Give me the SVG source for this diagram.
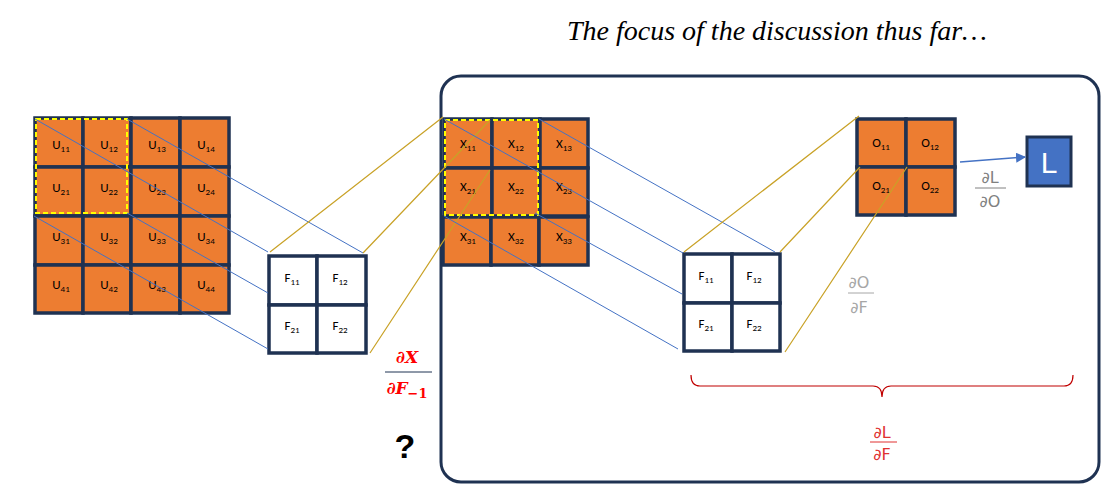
<svg xmlns="http://www.w3.org/2000/svg" width="1104" height="498" viewBox="0 0 1104 498">
<style>
.c{fill:#ED7D31;stroke:#1F3252;stroke-width:3.5}
.w{fill:#fff;stroke:#1F3252;stroke-width:3.5}
.t{font-family:Calibri,"Liberation Sans",sans-serif;font-size:13px;fill:#000;text-anchor:middle}
.s{font-size:9px}
.b{stroke:#4472C4;stroke-width:1;fill:none}
.g{stroke:#C9A227;stroke-width:1.2;fill:none}
.y{fill:none;stroke:#FFFF00;stroke-width:2;stroke-dasharray:5 3}
.m{font-family:"DejaVu Sans",sans-serif;font-size:16px;text-anchor:middle}
</style>
<defs><marker id="ar" markerWidth="10" markerHeight="10" refX="9" refY="5" orient="auto" markerUnits="userSpaceOnUse"><path d="M0,0L10,5L0,10z" fill="#4472C4"/></marker></defs>
<rect width="1104" height="498" fill="#fff"/>
<text x="777" y="40" font-family="Liberation Serif,serif" font-style="italic" font-size="28" text-anchor="middle">The focus of the discussion thus far…</text>
<rect x="441" y="76" width="658" height="406" rx="20" fill="none" stroke="#1F3252" stroke-width="3"/>
<g id="U">
<rect class="c" x="35" y="118" width="48" height="49"/><rect class="c" x="83" y="118" width="48" height="49"/><rect class="c" x="131" y="118" width="49" height="49"/><rect class="c" x="180" y="118" width="49" height="49"/>
<rect class="c" x="35" y="167" width="48" height="49"/><rect class="c" x="83" y="167" width="48" height="49"/><rect class="c" x="131" y="167" width="49" height="49"/><rect class="c" x="180" y="167" width="49" height="49"/>
<rect class="c" x="35" y="216" width="48" height="49"/><rect class="c" x="83" y="216" width="48" height="49"/><rect class="c" x="131" y="216" width="49" height="49"/><rect class="c" x="180" y="216" width="49" height="49"/>
<rect class="c" x="35" y="265" width="48" height="48"/><rect class="c" x="83" y="265" width="48" height="48"/><rect class="c" x="131" y="265" width="49" height="48"/><rect class="c" x="180" y="265" width="49" height="48"/>
<text class="t" x="61" y="149">U<tspan class="s" dy="3">11</tspan></text><text class="t" x="109" y="149">U<tspan class="s" dy="3">12</tspan></text><text class="t" x="157" y="149">U<tspan class="s" dy="3">13</tspan></text><text class="t" x="206" y="149">U<tspan class="s" dy="3">14</tspan></text>
<text class="t" x="61" y="192">U<tspan class="s" dy="3">21</tspan></text><text class="t" x="109" y="192">U<tspan class="s" dy="3">22</tspan></text><text class="t" x="157" y="192">U<tspan class="s" dy="3">23</tspan></text><text class="t" x="206" y="192">U<tspan class="s" dy="3">24</tspan></text>
<text class="t" x="61" y="241">U<tspan class="s" dy="3">31</tspan></text><text class="t" x="109" y="241">U<tspan class="s" dy="3">32</tspan></text><text class="t" x="157" y="241">U<tspan class="s" dy="3">33</tspan></text><text class="t" x="206" y="241">U<tspan class="s" dy="3">34</tspan></text>
<text class="t" x="61" y="289">U<tspan class="s" dy="3">41</tspan></text><text class="t" x="109" y="289">U<tspan class="s" dy="3">42</tspan></text><text class="t" x="157" y="289">U<tspan class="s" dy="3">43</tspan></text><text class="t" x="206" y="289">U<tspan class="s" dy="3">44</tspan></text>
<rect class="y" x="36" y="119" width="91" height="94"/>
</g>
<g id="F1">
<rect class="w" x="269" y="256" width="48" height="49"/><rect class="w" x="317" y="256" width="49" height="49"/><rect class="w" x="269" y="305" width="48" height="48"/><rect class="w" x="317" y="305" width="49" height="48"/>
<text class="t" x="292" y="282">F<tspan class="s" dy="3">11</tspan></text><text class="t" x="340" y="282">F<tspan class="s" dy="3">12</tspan></text>
<text class="t" x="292" y="330">F<tspan class="s" dy="3">21</tspan></text><text class="t" x="340" y="330">F<tspan class="s" dy="3">22</tspan></text>
</g>
<g id="X">
<rect class="c" x="444" y="119" width="48" height="49"/><rect class="c" x="492" y="119" width="48" height="49"/><rect class="c" x="540" y="119" width="48" height="49"/>
<rect class="c" x="444" y="168" width="48" height="48"/><rect class="c" x="492" y="168" width="48" height="48"/><rect class="c" x="540" y="168" width="48" height="48"/>
<rect class="c" x="443" y="217" width="48" height="48"/><rect class="c" x="491" y="217" width="48" height="48"/><rect class="c" x="539" y="217" width="49" height="48"/>
<text class="t" x="468" y="148">X<tspan class="s" dy="3">11</tspan></text><text class="t" x="516" y="148">X<tspan class="s" dy="3">12</tspan></text><text class="t" x="564" y="148">X<tspan class="s" dy="3">13</tspan></text>
<text class="t" x="468" y="191">X<tspan class="s" dy="3">21</tspan></text><text class="t" x="516" y="191">X<tspan class="s" dy="3">22</tspan></text><text class="t" x="564" y="191">X<tspan class="s" dy="3">23</tspan></text>
<text class="t" x="468" y="241">X<tspan class="s" dy="3">31</tspan></text><text class="t" x="516" y="241">X<tspan class="s" dy="3">32</tspan></text><text class="t" x="564" y="241">X<tspan class="s" dy="3">33</tspan></text>
<rect class="y" x="445" y="120" width="93" height="95"/>
</g>
<g id="F2">
<rect class="w" x="684" y="254" width="48" height="49"/><rect class="w" x="732" y="254" width="48" height="49"/><rect class="w" x="684" y="303" width="48" height="48"/><rect class="w" x="732" y="303" width="48" height="48"/>
<text class="t" x="706" y="280">F<tspan class="s" dy="3">11</tspan></text><text class="t" x="754" y="280">F<tspan class="s" dy="3">12</tspan></text>
<text class="t" x="706" y="328">F<tspan class="s" dy="3">21</tspan></text><text class="t" x="754" y="328">F<tspan class="s" dy="3">22</tspan></text>
</g>
<g id="O">
<rect class="c" x="857" y="119" width="49" height="48"/><rect class="c" x="906" y="119" width="49" height="48"/><rect class="c" x="857" y="167" width="49" height="48"/><rect class="c" x="906" y="167" width="49" height="48"/>
<text class="t" x="881" y="147">O<tspan class="s" dy="3">11</tspan></text><text class="t" x="930" y="147">O<tspan class="s" dy="3">12</tspan></text>
<text class="t" x="881" y="190">O<tspan class="s" dy="3">21</tspan></text><text class="t" x="930" y="190">O<tspan class="s" dy="3">22</tspan></text>
</g>
<g id="L">
<rect x="1027" y="137" width="44" height="49" fill="#4472C4" stroke="#1F3252" stroke-width="3"/>
<text x="1049" y="173" font-family="Liberation Sans,sans-serif" font-size="30" fill="#fff" text-anchor="middle">L</text>
</g>
<g id="connectors">
<path class="b" d="M35,119L268,252M127,119L363,253M127,213L268,293M34,216L268,349"/>
<path class="g" d="M270,252L443,117M363,253L490,120M370,353L490,170"/>
<path class="b" d="M444,119L683,253M539,119L775,252M535,213L682,294M444,216L678,349"/>
<path class="g" d="M684,252L859,116M780,252L860,167M785,352L907,167"/>
<path d="M960,162L1025,157" stroke="#4472C4" stroke-width="1.5" marker-end="url(#ar)"/>
<path d="M691,375Q691,386 700,386L873,386Q882,386 882,397Q882,386 891,386L1064,386Q1073,386 1073,375" fill="none" stroke="#C00000" stroke-width="1.2"/>
</g>
<g id="labels">
<text class="m" x="990" y="183" fill="#808080">∂L</text><line x1="975" y1="188" x2="1006" y2="188" stroke="#808080"/><text class="m" x="990" y="207" fill="#808080">∂O</text>
<text class="m" x="859" y="288" fill="#A6A6A6" font-size="18">∂O</text><line x1="848" y1="293" x2="874" y2="293" stroke="#A6A6A6"/><text class="m" x="859" y="313" fill="#A6A6A6" font-size="18">∂F</text>
<text class="m" x="882" y="438" fill="#E03030" font-size="18">∂L</text><line x1="870" y1="442" x2="897" y2="442" stroke="#E03030"/><text class="m" x="882" y="460" fill="#E03030" font-size="18">∂F</text>
<text x="407" y="363" font-family="DejaVu Serif,serif" font-weight="bold" font-style="italic" font-size="17" fill="#FF0000" text-anchor="middle">∂X</text>
<line x1="385" y1="372" x2="432" y2="372" stroke="#1F3252"/>
<text x="407" y="394" font-family="DejaVu Serif,serif" font-weight="bold" font-style="italic" font-size="17" fill="#FF0000" text-anchor="middle">∂F<tspan font-style="normal" font-size="13" dy="4">−1</tspan></text>
<text x="405" y="458" font-family="Liberation Sans,sans-serif" font-weight="bold" font-size="34" text-anchor="middle">?</text>
</g>
</svg>
